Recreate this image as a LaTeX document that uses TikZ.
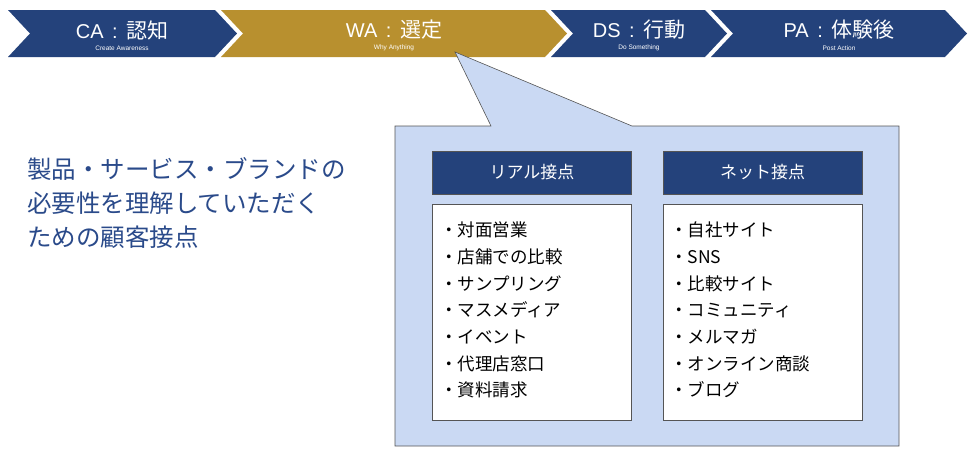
\documentclass[tikz,border=0pt]{standalone}
\usepackage{fontspec}
\setmainfont{Noto Sans CJK JP}
\newfontfamily\latinsf{Liberation Sans}
\definecolor{chevblue}{HTML}{24427B}
\definecolor{chevgold}{HTML}{B8902F}
\definecolor{callfill}{HTML}{CAD9F3}
\definecolor{lefttext}{HTML}{2A4A8A}
\definecolor{edgegray}{HTML}{555555}
\newcommand\chevlabel[2]{{\latinsf\fontsize{20}{22}\selectfont #1\hspace{8.5pt}:\hspace{8.5pt}}{\fontsize{21}{22}\selectfont #2}}
\tikzset{
  chevtitle/.style={text=white,inner sep=0pt},
  chevsub/.style={text=white,font=\latinsf\fontsize{6.5}{7}\selectfont,inner sep=0pt},
  headbox/.style={draw=edgegray,line width=0.5pt,fill=chevblue,text=white,
    minimum width=199pt,minimum height=43pt,inner sep=0pt,font=\fontsize{17}{20}\selectfont},
  listbox/.style={draw=edgegray,line width=0.5pt,fill=white,
    minimum width=199pt,minimum height=216pt,inner sep=0pt},
  listtext/.style={align=left,inner sep=0pt,font=\fontsize{17.5}{26.67}\selectfont,anchor=north west},
}
\begin{document}
\begin{tikzpicture}[x=1pt,y=-1pt]
\useasboundingbox (0,0) rectangle (980,456);
% chevrons
\def\d{22}
\fill[chevblue] (8,10) -- (215,10) -- (215+\d,33.5) -- (215,57) -- (8,57) -- (8+\d,33.5) -- cycle;
\fill[chevgold] (221,10) -- (545,10) -- (545+\d,33.5) -- (545,57) -- (221,57) -- (221+\d,33.5) -- cycle;
\fill[chevblue] (551,10) -- (705,10) -- (705+\d,33.5) -- (705,57) -- (551,57) -- (551+\d,33.5) -- cycle;
\fill[chevblue] (711,10) -- (945,10) -- (945+\d,33.5) -- (945,57) -- (711,57) -- (711+\d,33.5) -- cycle;
\node[chevtitle] (ca) at (122,30) {\chevlabel{CA}{認知}};
\node[chevsub] (cas) at (122,48) {Create Awareness};
\node[chevtitle] (wa) at (394,30) {\chevlabel{WA}{選定}};
\node[chevsub] (was) at (394,48) {Why Anything};
\node[chevtitle] (ds) at (639,30) {\chevlabel{DS}{行動}};
\node[chevsub] (dss) at (639,48) {Do Something};
\node[chevtitle] (pa) at (839,30) {\chevlabel{PA}{体験後}};
\node[chevsub] (pas) at (839,48) {Post Action};
% callout
\draw[draw=edgegray,line width=0.6pt,fill=callfill,line join=miter]
  (395,126) -- (491,126) -- (455,52) -- (632,126) -- (899,126) -- (899,446) -- (395,446) -- cycle;
% left text
\node[anchor=north west,align=left,inner sep=0pt,text=lefttext,
  font=\fontsize{24.5}{34}\selectfont] (lead) at (27,157)
  {製品・サービス・ブランドの\\必要性を理解していただく\\ための顧客接点};
% boxes
\node[headbox] (real) at (532,172.5) {リアル接点};
\node[headbox] (net) at (762.5,172.5) {ネット接点};
\node[listbox] (reallist) at (532,312) {};
\node[listbox] (netlist) at (762.5,312) {};
\node[listtext] (realitems) at (440,222)
  {・対面営業\\・店舗での比較\\・サンプリング\\・マスメディア\\・イベント\\・代理店窓口\\・資料請求};
\node[listtext] (netitems) at (670,222)
  {・自社サイト\\・SNS\\・比較サイト\\・コミュニティ\\・メルマガ\\・オンライン商談\\・ブログ};
\end{tikzpicture}
\end{document}
